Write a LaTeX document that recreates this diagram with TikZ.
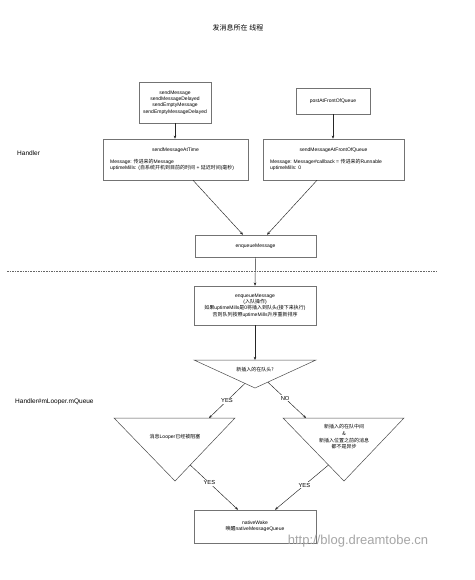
\documentclass[tikz,border=0pt]{standalone}
\usepackage{fontspec}
\setmainfont{Liberation Sans}
\newfontfamily\cjk{Noto Sans CJK SC}
\usetikzlibrary{arrows.meta,calc}
\begin{document}
\begin{tikzpicture}[x=1pt,y=-1pt,
  box/.style={draw=black!55,line width=0.5pt,inner sep=0pt},
  txt/.style={font=\fontsize{5}{6.3}\selectfont,inner sep=0pt,align=center},
  lbl/.style={font=\fontsize{6.5}{7}\selectfont,inner sep=0pt},
  yn/.style={font=\fontsize{5.8}{6}\selectfont,fill=white,inner sep=1pt},
  arr/.style={draw=black!85,line width=0.45pt,-{Stealth[length=3.2pt,width=2.6pt]}},
  tri/.style={draw=black!70,line width=0.5pt}]
\useasboundingbox[fill=white] (0,0) rectangle (474,580);

% title
\node[font=\fontsize{7}{8}\selectfont\cjk,inner sep=0pt] (title) at (238,28) {发消息所在 线程};

% side labels
\node[lbl,anchor=west] (handler) at (17,153) {Handler};
\node[lbl,anchor=west] (mqueue) at (15,402) {Handler\#mLooper.mQueue};

% boxes
\node[box,minimum width=72pt,minimum height=41pt,txt] (b1) at (175,102.5)
  {sendMessage\\sendMessageDelayed\\sendEmptyMessage\\sendEmptyMessageDelayed};
\node[box,minimum width=74pt,minimum height=26pt,txt] (b2) at (333,101) {postAtFrontOfQueue};

\node[box,minimum width=145pt,minimum height=41pt] (b3) at (175.5,159.5) {};
\node[txt] (b3t) at (175.5,150) {sendMessageAtTime};
\node[txt,anchor=west,align=left] (b3l) at (110,165.2)
  {Message: {\cjk 传进来的}Message\\uptimeMills: ({\cjk 自系统开机到目前的时间} + {\cjk 延迟时间}({\cjk 毫秒})};

\node[box,minimum width=141pt,minimum height=41pt] (b4) at (333.5,159.5) {};
\node[txt] (b4t) at (333.5,150) {sendMessageAtFrontOfQueue};
\node[txt,anchor=west,align=left] (b4l) at (270,165.2)
  {Message: Message\#callback = {\cjk 传进来的}Runnable\\uptimeMills: 0};

\node[box,minimum width=121pt,minimum height=22pt,txt] (b5) at (255.5,246) {enqueueMessage};

\node[box,minimum width=122pt,minimum height=39pt,txt] (b6) at (255,305.5)
  {enqueueMessage\\({\cjk 入队操作})\\{\cjk 如果}uptimeMills{\cjk 是}0{\cjk 将插入到队头}({\cjk 接下来执行})\\{\cjk 否则队列按照}uptimeMills{\cjk 升序重新排序}};

\node[box,minimum width=122pt,minimum height=33pt,txt] (b7) at (255,526.5)
  {nativeWake\\{\cjk 唤醒}nativeMessageQueue};

% triangles
\coordinate (t1a) at (194,360); \coordinate (t1b) at (316,360); \coordinate (t1c) at (255,388);
\draw[tri] (t1a) -- (t1b) -- (t1c) -- cycle;
\coordinate (t1top) at (255,360);
\node[txt,font=\fontsize{5}{6.3}\selectfont\cjk] (t1t) at (255,370) {新插入的在队头?};

\coordinate (t2a) at (114,418); \coordinate (t2b) at (235,418); \coordinate (t2c) at (175,481);
\draw[tri] (t2a) -- (t2b) -- (t2c) -- cycle;
\node[txt] (t2t) at (175,437) {{\cjk 消息}Looper{\cjk 已经被阻塞}};

\coordinate (t3a) at (283,418); \coordinate (t3b) at (404,418); \coordinate (t3c) at (344,481);
\draw[tri] (t3a) -- (t3b) -- (t3c) -- cycle;
\node[txt,font=\fontsize{5}{6.7}\selectfont\cjk] (t3t) at (344,437)
  {新插入的在队中间\\\&\\新插入位置之前的消息\\都不是异步};

% connectors
\draw[arr] (b1.south) -- (b1.south |- b3.north);
\draw[arr] (b2.south) -- (b2.south |- b4.north);
\draw[arr] ([xshift=17.5pt]b3.south) -- ([xshift=-12.5pt]b5.north);
\draw[arr] ([xshift=-16.5pt]b4.south) -- ([xshift=11.5pt]b5.north);
\draw[arr] (b5.south) -- (b6.north);
\draw[dash pattern=on 1.6pt off 1pt,draw=black!60,line width=0.45pt] (7,271) -- (437,271);
\draw[arr] (b6.south) -- (t1top);

\coordinate (t1l) at (245,383.4);
\coordinate (t1r) at (268,382.3);
\coordinate (t2top) at (209,418);
\coordinate (t3top) at (306,418);
\draw[arr] (t1l) -- node[yn,pos=0.5] {YES} (t2top);
\draw[arr] (t1r) -- node[yn,pos=0.45] {NO} (t3top);

\coordinate (t2r) at (190.2,465);
\coordinate (t3l) at (328.5,465);
\draw[arr] (t2r) -- node[yn,pos=0.4] {YES} ([xshift=-17pt]b7.north);
\draw[arr] (t3l) -- node[yn,pos=0.45] {YES} ([xshift=20pt]b7.north);

% watermark
\node[font=\fontsize{13}{13}\selectfont,text=black!35,inner sep=0pt] (wm) at (358,541) {http://blog.dreamtobe.cn};
\end{tikzpicture}
\end{document}
